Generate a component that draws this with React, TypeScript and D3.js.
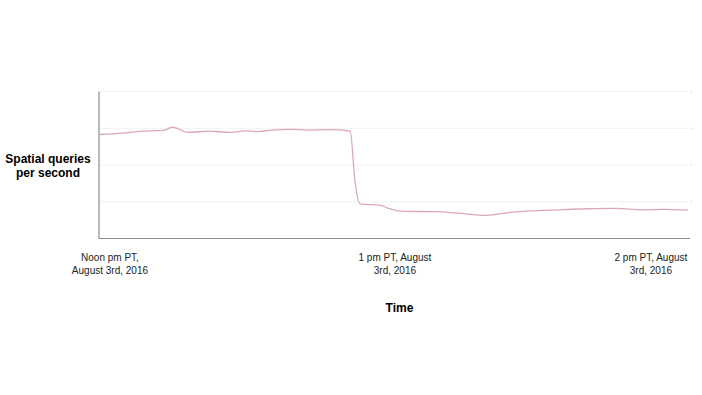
import React from "react";
import * as d3 from "d3";

const minutes = [0, 5, 9, 14, 16, 19.5, 24, 29, 32, 35, 38, 42, 46, 51, 55.3, 56.4, 57.5, 62, 64, 65.6, 68, 74, 79, 85.5, 90, 95, 101, 108, 114, 120, 124.5, 130];
const qps = [2.83, 2.865, 2.92, 2.94, 3.03, 2.89, 2.92, 2.89, 2.93, 2.91, 2.95, 2.97, 2.95, 2.96, 2.925, 1.53, 0.94, 0.9, 0.81, 0.76, 0.74, 0.73, 0.69, 0.63, 0.7, 0.75, 0.78, 0.81, 0.82, 0.78, 0.79, 0.77];
const gridValues = [0, 1, 2, 3, 4];
const tickMinutes = [2.2, 65.2, 121.8];
const tickLabels = [
  ["Noon pm PT,", "August 3rd, 2016"],
  ["1 pm PT, August", "3rd, 2016"],
  ["2 pm PT, August", "3rd, 2016"],
];

export default function App() {
  const W = 702, H = 395;
  const x = d3.scaleLinear().domain([0, 130]).range([100, 688]);
  const y = d3.scaleLinear().domain([0, 4]).range([238.5, 91.5]);
  const pts = minutes.map((m, i) => [m, qps[i]] as [number, number]);
  const line = d3.line<[number, number]>().x(d => x(d[0])).y(d => y(d[1])).curve(d3.curveMonotoneX);
  const font = "'Liberation Sans', Arial, Helvetica, sans-serif";
  return (
    <svg width={W} height={H} style={{ position: "absolute", left: 0, top: 0, background: "#fff" }}>
      {gridValues.slice(1).map(v => (
        <g key={v}>
          <line x1={x(0)} x2={x(130)} y1={y(v)} y2={y(v)} stroke="#f1f1f1" strokeWidth={1} />
          <line x1={x(130) + 2} x2={x(130) + 4} y1={y(v)} y2={y(v)} stroke="#e0e0e0" strokeWidth={1} />
        </g>
      ))}
      <line x1={99} x2={99} y1={y(4)} y2={y(0)} stroke="#8c8c8c" strokeWidth={1.2} />
      <line x1={99} x2={x(130) + 2} y1={y(0)} y2={y(0)} stroke="#8c8c8c" strokeWidth={1.2} />
      <path d={line(pts) || ""} fill="none" stroke="#dca7b5" strokeWidth={1.3} />
      {tickMinutes.map((m, i) => (
        <text key={i} x={x(m)} y={261} textAnchor="middle" fontFamily={font} fontSize={10} fill="#222">
          {tickLabels[i].map((t, j) => (
            <tspan key={j} x={x(m)} dy={j === 0 ? 0 : 12.5}>{t}</tspan>
          ))}
        </text>
      ))}
      <text x={48} y={163} textAnchor="middle" fontFamily={font} fontSize={12} fontWeight="bold" fill="#000">
        <tspan x={48} dy={0}>Spatial queries</tspan>
        <tspan x={48} dy={13.5}>per second</tspan>
      </text>
      <text x={399.5} y={312} textAnchor="middle" fontFamily={font} fontSize={12} fontWeight="bold" fill="#000">Time</text>
    </svg>
  );
}
